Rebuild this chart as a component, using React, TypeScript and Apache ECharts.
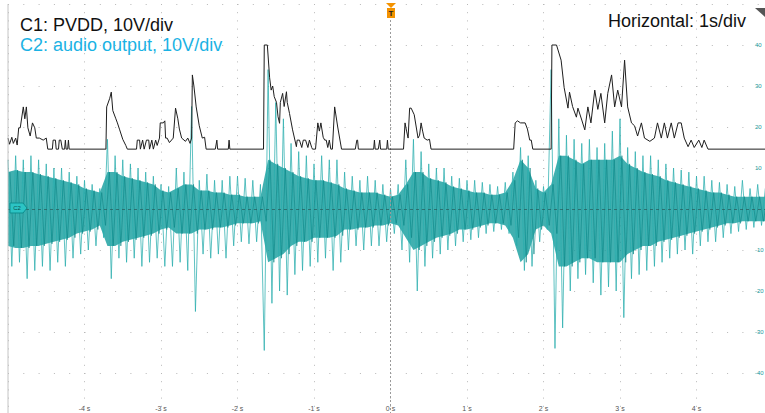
import React, { useEffect, useRef } from "react";
import * as echarts from "echarts";

// ---- C1: PVDD (display units, V on screen scale) ----
const c1Time = [
  -5.0, -4.98, -4.95, -4.93, -4.9, -4.88, -4.86, -4.84, -4.8, -4.78, -4.76, -4.74, -4.71, -4.68, -4.65, -4.63,
  -4.59, -4.54, -4.5, -4.48, -4.42, -4.41, -4.38, -4.37, -4.34, -4.33, -4.31, -4.29, -4.26, -4.25, -4.24, -4.22,
  -4.21, -4.2, -3.72, -3.71, -3.67, -3.65, -3.63, -3.59, -3.57, -3.54, -3.5, -3.46, -3.44, -3.32, -3.31, -3.28,
  -3.27, -3.24, -3.22, -3.19, -3.16, -3.15, -3.12, -3.1, -3.07, -3.05, -3.02, -3.01, -2.97, -2.95, -2.94, -2.92,
  -2.89, -2.84, -2.81, -2.78, -2.76, -2.73, -2.68, -2.65, -2.62, -2.6, -2.59, -2.57, -2.54, -2.5, -2.46, -2.43,
  -2.41, -2.29, -2.27, -2.26, -2.12, -2.11, -2.1, -1.66, -1.65, -1.61, -1.58, -1.56, -1.54, -1.52, -1.49, -1.47,
  -1.45, -1.44, -1.41, -1.39, -1.36, -1.35, -1.32, -1.28, -1.23, -1.22, -1.19, -1.16, -1.14, -1.11, -1.08, -1.06,
  -1.03, -1.02, -0.98, -0.95, -0.93, -0.91, -0.88, -0.86, -0.84, -0.82, -0.8, -0.78, -0.76, -0.73, -0.69, -0.64,
  -0.46, -0.44, -0.43, -0.42, -0.22, -0.21, -0.2, -0.16, -0.14, -0.13, -0.05, -0.04, -0.03, 0.17, 0.19, 0.21,
  0.23, 0.25, 0.27, 0.31, 0.36, 0.38, 0.4, 0.42, 0.44, 0.48, 0.51, 0.53, 1.61, 1.63, 1.66, 1.7,
  1.76, 1.79, 1.82, 1.84, 1.86, 2.1, 2.11, 2.17, 2.23, 2.27, 2.32, 2.34, 2.38, 2.43, 2.45, 2.5,
  2.54, 2.58, 2.62, 2.67, 2.71, 2.75, 2.8, 2.84, 2.89, 2.93, 2.97, 3.02, 3.06, 3.1, 3.15, 3.19,
  3.23, 3.28, 3.32, 3.39, 3.45, 3.49, 3.54, 3.58, 3.62, 3.67, 3.71, 3.76, 3.8, 3.84, 3.89, 3.93,
  3.97, 4.03, 4.07, 4.1, 4.15, 5.0,
];
const c1Volt = [
  17.3, 15.8, 17.5, 16.0, 17.3, 15.6, 19.8, 19.8, 24.9, 22.0, 24.9, 19.8, 17.8, 21.0, 19.8, 17.3,
  17.3, 16.8, 17.3, 14.6, 14.6, 16.8, 16.8, 14.6, 14.6, 16.8, 16.8, 14.6, 14.6, 16.8, 14.6, 14.6,
  16.8, 14.6, 14.6, 24.9, 27.0, 28.5, 24.0, 22.0, 21.0, 19.3, 17.0, 15.5, 14.6, 14.6, 16.8, 16.8,
  14.6, 16.8, 14.6, 16.8, 16.8, 14.6, 16.8, 14.6, 16.8, 15.5, 17.3, 21.0, 21.0, 21.5, 17.3, 17.3,
  16.2, 17.3, 24.6, 22.0, 19.5, 17.3, 16.5, 17.3, 16.0, 17.3, 32.7, 30.0, 24.9, 20.3, 17.3, 17.5,
  14.6, 14.6, 16.8, 14.6, 14.6, 16.8, 14.6, 14.6, 40.0, 40.0, 32.0, 29.0, 30.0, 27.4, 26.0, 22.5,
  20.9, 26.0, 28.2, 25.0, 28.6, 26.0, 23.3, 19.3, 15.2, 16.8, 16.8, 15.0, 16.8, 16.8, 15.0, 16.8,
  15.0, 14.6, 14.6, 21.0, 19.0, 21.0, 17.5, 16.8, 16.8, 15.0, 16.8, 14.6, 14.6, 24.9, 20.0, 14.6,
  14.6, 16.8, 16.8, 14.6, 14.6, 16.8, 14.6, 14.6, 16.8, 14.6, 14.6, 16.8, 14.6, 14.6, 21.0, 19.0,
  17.3, 24.6, 24.6, 23.0, 17.3, 18.0, 21.0, 19.0, 17.3, 16.8, 17.0, 14.6, 14.6, 21.0, 21.5, 21.0,
  21.0, 19.5, 16.8, 16.8, 14.6, 14.6, 40.0, 40.0, 36.3, 29.6, 24.6, 28.5, 25.0, 22.4, 24.6, 21.7,
  19.3, 24.9, 21.0, 29.0, 24.3, 28.2, 21.0, 28.2, 32.7, 24.9, 29.0, 24.9, 36.3, 24.9, 21.0, 20.3,
  17.8, 21.0, 17.3, 16.5, 17.3, 21.0, 17.3, 21.0, 17.3, 21.0, 17.3, 21.0, 21.0, 17.3, 15.2, 16.8,
  15.0, 16.8, 15.0, 16.8, 14.6, 14.6,
];

// ---- C2: audio output, envelope read per 0.1 s bin starting at -5 s ----
const c2Start = -5;
const c2Step = 0.1;
const c2OuterMax = [
  12, 13, 12, 13, 12, 11, 10, 10, 9, 8,
  7, 6, 5, 17, 13, 12, 11, 10, 9, 8,
  6, 5.5, 10, 9, 25, 7, 8.5, 7, 7, 8,
  8, 7.5, 7, 6, 34, 26, 22, 16, 14, 13,
  11, 13, 12, 12, 9, 8, 7, 8, 7, 6,
  5, 6, 12, 17, 14, 11, 10, 10, 8, 7.5,
  7, 7, 6.5, 6, 5.5, 6.5, 9, 15, 13, 7,
  5.5, 34, 22, 18, 17, 16, 17, 15, 16, 19,
  22, 15, 14, 13, 13, 12, 11, 10, 9.5, 9,
  8, 8, 7, 6.5, 6, 5.5, 7, 5, 6, 5,
];
const c2OuterMin = [
  -14, -13, -17, -15, -14, -15, -13, -14, -12, -11,
  -10, -9, -7, -17, -12, -13, -12, -14, -13, -12,
  -14, -14, -13, -15, -25, -11, -12, -11, -12, -9,
  -8, -8.5, -8, -34.5, -23, -20, -21, -16, -15, -14,
  -13, -12, -15, -13, -10, -9, -10, -9, -9, -8,
  -6, -10, -13, -20, -14, -12, -11, -10, -9, -8,
  -7.5, -7, -6, -5.5, -5, -6, -9, -15, -14, -8,
  -5, -34, -29, -20, -17, -16, -18, -21, -19, -20,
  -26.5, -17, -16, -15, -14, -13, -12, -11, -10, -11,
  -9, -8, -8, -7, -6, -5.5, -5, -4.5, -4, -4,
];
const c2InnerMax = [
  9, 9.5, 9, 9, 8.5, 8, 7.5, 7, 6.5, 6,
  5, 4.5, 4, 9, 9, 8, 7.5, 7, 6.5, 6,
  4.5, 4, 5, 6, 6, 4.5, 4.5, 4, 4, 3.5,
  3.5, 3, 3, 3, 12, 11, 10, 9, 8, 7.5,
  7, 7, 6.5, 6, 5, 4.5, 4, 4, 4, 3.5,
  3, 3.5, 6, 9, 9, 7.5, 7, 6.5, 5.5, 5,
  4.5, 4, 4, 3.5, 3.5, 4, 7, 12, 10, 5,
  4, 6, 13, 13, 12, 11, 12, 12, 12, 12,
  13, 11, 10, 9, 8.5, 8, 7, 6.5, 6, 5.5,
  5, 4.5, 4, 4, 3.5, 3, 3, 3, 3, 3,
];
const c2InnerMin = [
  -9, -9.5, -9.5, -9, -9, -8.5, -8, -7.5, -7, -6,
  -5.5, -5, -4, -9, -9, -8, -7.5, -7, -6.5, -6,
  -5, -4.5, -6, -6, -6, -5, -5, -4.5, -4.5, -4,
  -3.5, -3.5, -3.5, -3, -13, -12, -11, -9, -8, -8,
  -7, -7, -7, -6.5, -5, -5, -4.5, -4.5, -4, -4,
  -3.5, -4, -7, -10, -9, -8, -7, -6.5, -6, -5,
  -5, -4.5, -4, -3.5, -3.5, -4, -7, -13, -11, -5,
  -4, -6, -14, -14, -13, -12, -12, -13, -13, -13,
  -13, -11, -10, -9, -9, -8, -7.5, -7, -6.5, -6,
  -5.5, -5, -4.5, -4, -3.5, -3.5, -3, -3, -3, -3,
];

const yTickLabels = [40, 30, 20, 10, -10, -20, -30, -40];

export default function App() {
  const ref = useRef<HTMLDivElement>(null);
  useEffect(() => {
    if (!ref.current) return;
    const chart = echarts.init(ref.current, null, { renderer: "svg" });
    const tOf = (i: number) => +(c2Start + i * c2Step).toFixed(3);
    const c1Data = c1Time.map((t, i) => [t, c1Volt[i]]);
    const innerMaxData = c2InnerMax.map((v, i) => [tOf(i), v]);
    const innerMinData = c2InnerMin.map((v, i) => [tOf(i), v]);
    const outerZig: number[][] = [];
    c2OuterMax.forEach((v, i) => {
      outerZig.push([tOf(i), v]);
      outerZig.push([+(tOf(i) + c2Step / 2).toFixed(3), c2OuterMin[i]]);
    });
    const innerZig: number[][] = [];
    c2InnerMax.forEach((v, i) => {
      innerZig.push([+(tOf(i) + c2Step / 4).toFixed(3), v]);
      innerZig.push([+(tOf(i) + (3 * c2Step) / 4).toFixed(3), c2InnerMin[i]]);
    });

    const font = "'Liberation Sans', Arial, sans-serif";
    chart.setOption({
      animation: false,
      backgroundColor: "#ffffff",
      grid: { left: 8, top: 4, width: 765, height: 410, containLabel: false, outerBoundsMode: "none" },
      xAxis: {
        type: "value",
        min: -5,
        max: 5,
        interval: 1,
        axisLine: { show: false },
        axisTick: { show: false },
        axisLabel: {
          inside: true,
          margin: 2,
          fontSize: 7,
          color: "#555",
          fontFamily: font,
          formatter: (v: number) => (Number.isInteger(v) && v > -5 && v < 5 ? `${v} s` : ""),
        },
        splitLine: { show: true, lineStyle: { color: "#b8b8b8", width: 1, type: [1, 7.2] } },
      },
      yAxis: {
        type: "value",
        position: "right",
        min: -50,
        max: 50,
        interval: 10,
        axisLine: { show: false },
        axisTick: { show: false },
        axisLabel: {
          inside: true,
          margin: 18,
          align: "left",
          fontSize: 6,
          color: "#1a9a9a",
          fontFamily: font,
          formatter: (v: number) => (yTickLabels.includes(v) ? `${v}` : ""),
        },
        splitLine: { show: true, lineStyle: { color: "#b8b8b8", width: 1, type: [1, 14.3] } },
      },
      series: [
        {
          name: "C2 inner max",
          type: "line",
          data: innerMaxData,
          showSymbol: false,
          lineStyle: { width: 0 },
          areaStyle: { color: "#119c9c", opacity: 0.8 },
          silent: true,
          z: 2,
        },
        {
          name: "C2 inner min",
          type: "line",
          data: innerMinData,
          showSymbol: false,
          lineStyle: { width: 0 },
          areaStyle: { color: "#119c9c", opacity: 0.8 },
          silent: true,
          z: 2,
        },
        {
          name: "C2 outer",
          type: "line",
          data: outerZig,
          showSymbol: false,
          lineStyle: { color: "#2aaeae", width: 1, opacity: 0.75 },
          silent: true,
          z: 3,
        },
        {
          name: "C2 inner",
          type: "line",
          data: innerZig,
          showSymbol: false,
          lineStyle: { color: "#0b8585", width: 1, opacity: 0.6 },
          silent: true,
          z: 4,
          markLine: {
            silent: true,
            symbol: "none",
            label: { show: false },
            lineStyle: { color: "#2a5a5a", width: 1, type: [3, 3], opacity: 0.7 },
            data: [{ yAxis: 0 }],
          },
        },
        {
          name: "C1",
          type: "line",
          data: c1Data,
          showSymbol: false,
          lineStyle: { color: "#1e1e1e", width: 1 },
          silent: true,
          z: 6,
          markLine: {
            silent: true,
            symbol: "none",
            label: { show: false },
            lineStyle: { color: "#9a9a9a", width: 1, type: [2, 2] },
            data: [{ xAxis: 0 }],
          },
        },
      ],
      graphic: [
        { type: "line", shape: { x1: 8, y1: 4, x2: 8, y2: 413 }, style: { stroke: "#c4c4c4", lineWidth: 1 }, z: 10 },
        {
          type: "text",
          x: 20,
          y: 24.5,
          style: { text: "C1: PVDD, 10V/div", fill: "#111", font: `18px ${font}`, verticalAlign: "middle" },
          z: 20,
        },
        {
          type: "text",
          x: 20,
          y: 44.5,
          style: { text: "C2: audio output, 10V/div", fill: "#1ab2e4", font: `18px ${font}`, verticalAlign: "middle" },
          z: 20,
        },
        {
          type: "text",
          x: 608,
          y: 20.5,
          style: { text: "Horizontal: 1s/div", fill: "#111", font: `18px ${font}`, verticalAlign: "middle" },
          z: 20,
        },
        {
          type: "polygon",
          shape: { points: [[755, 8], [765, 8], [765, 17]] },
          style: { fill: "#555" },
          z: 20,
        },
        {
          type: "polygon",
          shape: { points: [[386, 3], [396, 3], [391, 8]] },
          style: { fill: "#f39200" },
          z: 20,
        },
        {
          type: "rect",
          shape: { x: 387, y: 8, width: 8, height: 10 },
          style: { fill: "#f39200" },
          z: 20,
        },
        {
          type: "text",
          x: 391,
          y: 13,
          style: { text: "T", fill: "#222", font: `bold 8px ${font}`, align: "center", verticalAlign: "middle" },
          z: 21,
        },
        {
          type: "polygon",
          shape: { points: [[10, 203], [23, 203], [27, 208], [23, 213], [10, 213]] },
          style: { fill: "#2cc4c4", stroke: "#0e8f8f", lineWidth: 1 },
          z: 20,
        },
        {
          type: "text",
          x: 17,
          y: 208,
          style: { text: "C2", fill: "#0a5050", font: `6px ${font}`, align: "center", verticalAlign: "middle" },
          z: 21,
        },
      ],
    });
    return () => chart.dispose();
  }, []);
  return <div ref={ref} style={{ position: "fixed", left: 0, top: 0, width: 765, height: 413 }} />;
}
